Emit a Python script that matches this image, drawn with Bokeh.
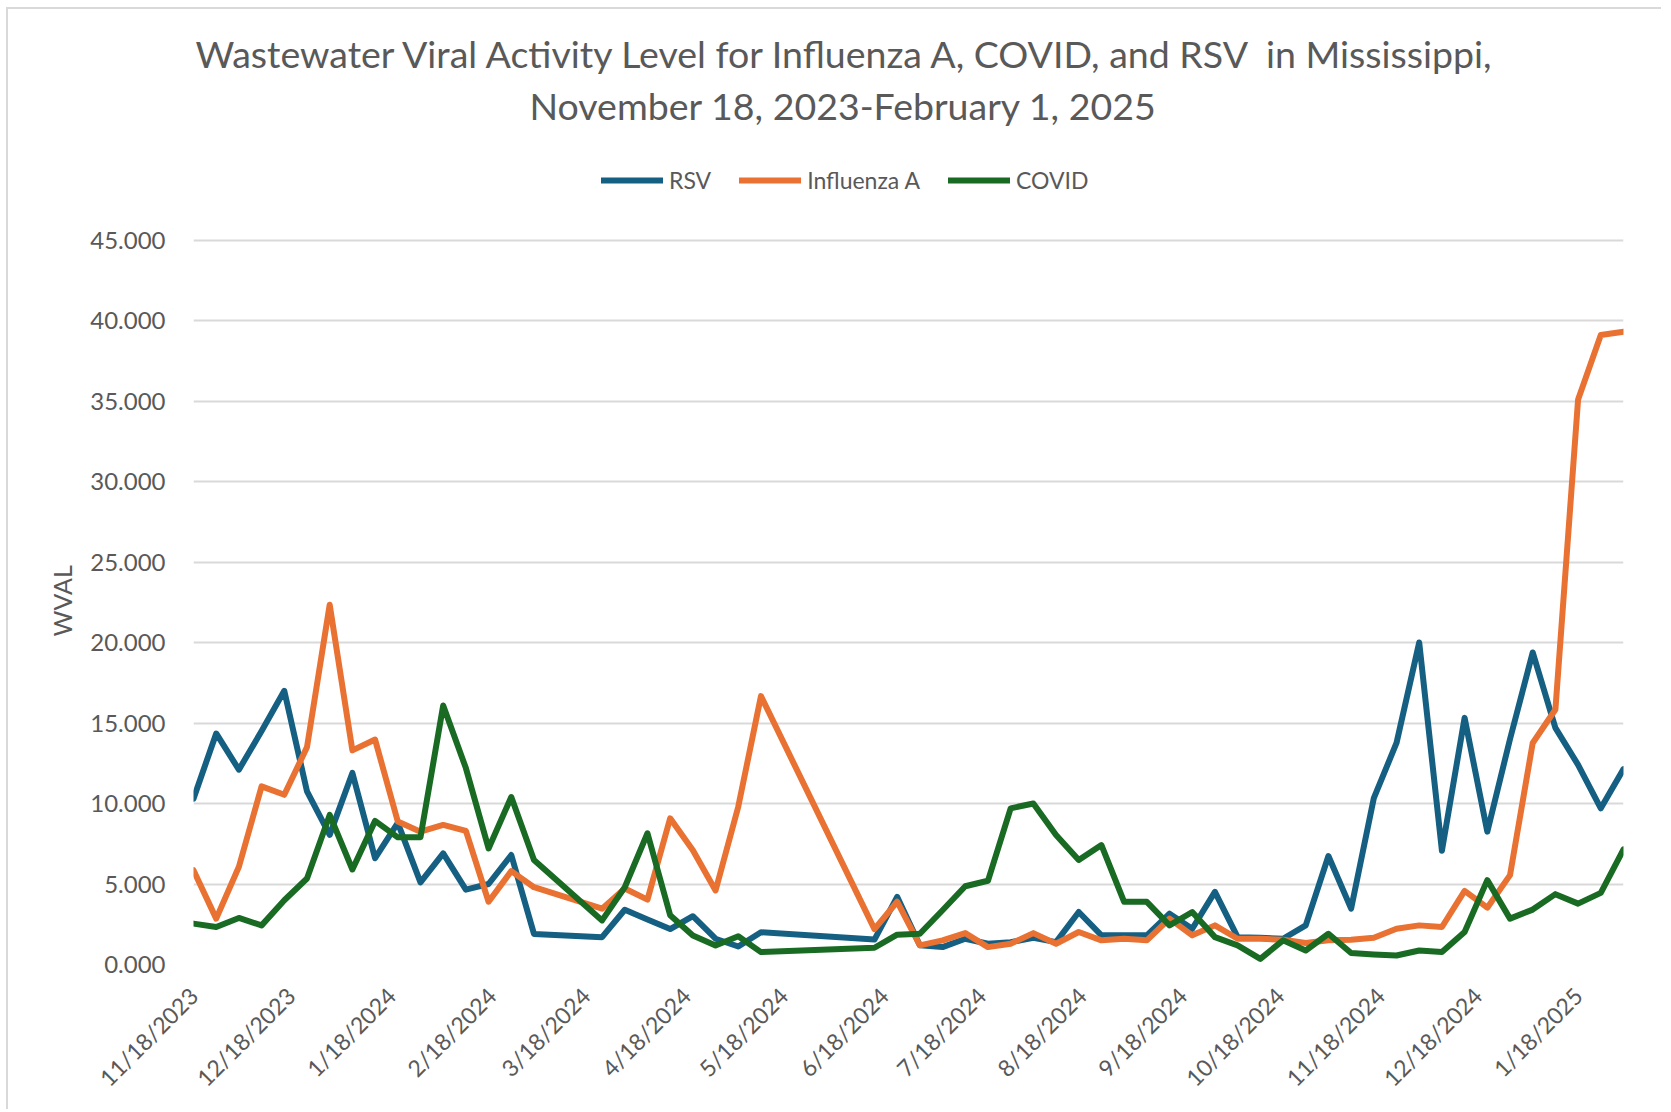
import math
import pandas as pd
from bokeh.plotting import figure
from bokeh.models import (Range1d, FixedTicker, NumeralTickFormatter, Title,
                          Legend, LegendItem)
from bokeh.embed import file_html
from bokeh.resources import INLINE

# ---------------- data ----------------
title_line1 = "Wastewater Viral Activity Level for Influenza A, COVID, and RSV\u00a0 in Mississippi,"
title_line2 = "November 18, 2023-February 1, 2025"
y_label = "WVAL"
series_names = ["RSV", "Influenza A", "COVID"]
series_colors = ["#156082", "#E97132", "#196B24"]

first_week = "2023-11-18"
last_week = "2025-02-01"
dates = pd.date_range(first_week, last_week, freq="7D")

rsv = [10.3, 14.35, 12.1, 14.5, 17.0, 10.75, 8.05, 11.9, 6.6, 8.8,
       5.1, 6.9, 4.65, 5.0, 6.8, 1.9, None, None, 1.7, 3.4,
       2.8, 2.2, 3.0, 1.6, 1.12, 2.0, None, None, None, None,
       1.55, 4.2, 1.19, 1.08, 1.6, 1.29, 1.39, 1.66, 1.39, 3.26,
       1.81, 1.81, 1.81, 3.16, 2.22, 4.51, 1.7, 1.66, 1.6, 2.43,
       6.74, 3.47, 10.33, 13.76, 20.0, 7.07, 15.32, 8.25, 14.0, 19.38,
       14.7, 12.4, 9.7, 12.14]

influenza_a = [5.86, 2.85, 6.07, 11.06, 10.54, 13.5, 22.35, 13.3, 13.97, 8.88,
               8.25, 8.67, 8.3, 3.9, 5.8, 4.8, None, None, 3.47, 4.72,
               4.03, 9.08, 7.1, 4.6, 9.8, 16.67, None, None, None, None,
               2.2, 3.9, 1.19, 1.5, 1.95, 1.08, 1.29, 1.95, 1.29, 2.02,
               1.5, 1.6, 1.5, 2.85, 1.81, 2.43, 1.6, 1.6, 1.54, 1.33,
               1.5, 1.54, 1.66, 2.22, 2.43, 2.33, 4.57, 3.53, 5.55, 13.76,
               15.84, 35.1, 39.1, 39.3]

covid = [2.54, 2.33, 2.89, 2.43, 3.99, 5.34, 9.29, 5.9, 8.92, 7.9,
         7.9, 16.09, 12.2, 7.21, 10.4, 6.49, None, None, 2.74, 4.8,
         8.15, 3.06, 1.8, 1.18, 1.75, 0.77, None, None, None, None,
         1.04, 1.85, 1.91, 3.37, 4.86, 5.2, 9.7, 10.0, 8.05, 6.49,
         7.42, 3.89, 3.89, 2.43, 3.26, 1.7, 1.19, 0.35, 1.5, 0.87,
         1.91, 0.71, 0.62, 0.56, 0.87, 0.77, 2.02, 5.24, 2.85, 3.41,
         4.37, 3.78, 4.45, 7.15]

x_tick_labels = ["11/18/2023", "12/18/2023", "1/18/2024", "2/18/2024", "3/18/2024",
                 "4/18/2024", "5/18/2024", "6/18/2024", "7/18/2024", "8/18/2024",
                 "9/18/2024", "10/18/2024", "11/18/2024", "12/18/2024", "1/18/2025"]
y_ticks = [0, 5, 10, 15, 20, 25, 30, 35, 40, 45]

# ---------------- layout (pixels) ----------------
FONT = "Lato"
TEXT_COLOR = "#595959"
CANVAS_H = 1102
FRAME_TOP = 125          # frame extends up to hold the legend
DATA_TOP = 230.5         # pixel row of the top (45) gridline
FRAME_BOTTOM = 955
px_per_unit = (FRAME_BOTTOM - DATA_TOP) / y_ticks[-1]
y_top = y_ticks[-1] + (DATA_TOP - FRAME_TOP) / px_per_unit

p = figure(width=1655, height=CANVAS_H, x_axis_type="datetime",
           output_backend="svg", toolbar_location=None, title=None,
           min_border_left=185, min_border_right=40,
           min_border_top=FRAME_TOP, min_border_bottom=CANVAS_H - FRAME_BOTTOM,
           styles={"margin-left": "6px", "margin-top": "7px",
                   "border-left": "2px solid #d9d9d9", "border-top": "2px solid #d9d9d9"})
p.x_range = Range1d(dates[0], dates[-1])
p.y_range = Range1d(y_ticks[0], y_top)
p.outline_line_color = None
p.background_fill_color = "white"
p.border_fill_color = "white"

p.xgrid.grid_line_color = None
p.ygrid.grid_line_color = "#d9d9d9"
p.ygrid.grid_line_width = 2

tick_ms = [pd.Timestamp(pd.to_datetime(t, format="%m/%d/%Y")).value / 1e6 for t in x_tick_labels]
p.xaxis.ticker = FixedTicker(ticks=tick_ms)
p.xaxis.major_label_overrides = {ms: lab for ms, lab in zip(tick_ms, x_tick_labels)}
p.xaxis.major_label_orientation = math.pi / 4
p.yaxis.ticker = FixedTicker(ticks=y_ticks)
p.yaxis.formatter = NumeralTickFormatter(format="0.000")

for ax in (p.xaxis, p.yaxis):
    ax.axis_line_color = None
    ax.major_tick_line_color = None
    ax.minor_tick_line_color = None
    ax.major_tick_out = 0
    ax.major_tick_in = 0
    ax.major_label_text_font = FONT
    ax.major_label_text_color = TEXT_COLOR
p.yaxis.major_label_text_font_size = "24px"
p.xaxis.major_label_text_font_size = "23px"
p.yaxis.major_label_standoff = 28
p.xaxis.major_label_standoff = 27

items = []
for name, vals, col in zip(series_names, [rsv, influenza_a, covid], series_colors):
    xs = [d for d, v in zip(dates, vals) if v is not None]
    ys = [v for v in vals if v is not None]
    r = p.line(xs, ys, line_width=6, line_color=col, line_join="round", line_cap="round")
    items.append(LegendItem(label=name, renderers=[r]))

legend = Legend(items=items, orientation="horizontal",
                location=(408, FRAME_BOTTOM - 185),
                glyph_width=62, glyph_height=24, label_height=24, label_standoff=6,
                spacing=28, padding=0, margin=0,
                border_line_color=None, background_fill_alpha=0,
                label_text_font=FONT, label_text_font_size="23px",
                label_text_color=TEXT_COLOR)
p.add_layout(legend)

# y axis title on the left, centred on the 0-45 data band
p.add_layout(Title(text=y_label, align="left", offset=328, vertical_align="middle",
                   standoff=20, text_font=FONT, text_font_size="25px",
                   text_font_style="normal", text_color=TEXT_COLOR), "left")

# chart title (added nearest-to-plot first)
p.add_layout(Title(text=title_line2, align="left", offset=336, vertical_align="bottom",
                   standoff=14, text_font=FONT, text_font_size="37.5px",
                   text_font_style="normal", text_color=TEXT_COLOR), "above")
p.add_layout(Title(text=title_line1, align="left", offset=2, vertical_align="middle",
                   standoff=-6, text_font=FONT, text_font_size="37.5px",
                   text_font_style="normal", text_color=TEXT_COLOR), "above")
p.add_layout(Title(text=" ", align="left", vertical_align="middle",
                   standoff=20, text_font=FONT, text_font_size="1px"), "above")

open("out.html", "w").write(file_html(p, INLINE))
